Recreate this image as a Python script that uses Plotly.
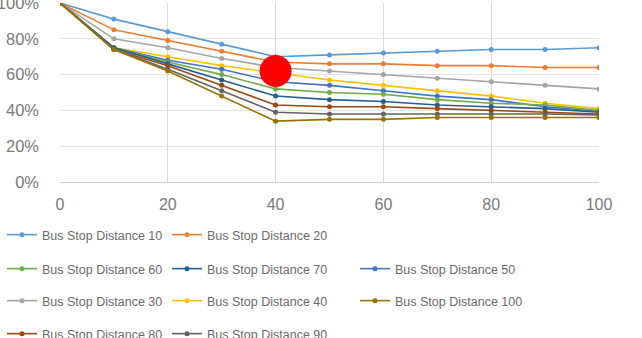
import plotly.graph_objects as go

x_vals = [0, 10, 20, 30, 40, 50, 60, 70, 80, 90, 100]

bsd10 = [100, 91, 84, 77, 70, 71, 72, 73, 74, 74, 75]
bsd20 = [100, 85, 79, 73, 67, 66, 66, 65, 65, 64, 64]
bsd30 = [100, 80, 75, 69, 64, 62, 60, 58, 56, 54, 52]
bsd40 = [100, 75, 70, 65, 61, 57, 54, 51, 48, 44, 41]
bsd50 = [100, 75, 68, 63, 56, 54, 51, 48, 46, 42, 39.5]
bsd60 = [100, 75, 67, 60, 52, 50, 49, 46, 44, 43, 40]
bsd70 = [100, 75, 66, 57, 48, 46, 45, 43, 42, 41, 39]
bsd80 = [100, 74, 65, 54, 43, 42, 42, 41, 40, 39, 38]
bsd90 = [100, 74, 63, 51, 39, 38, 38, 38, 38, 38, 37.5]
bsd100 = [100, 74, 62, 48, 34, 35, 35, 36, 36, 36, 36]

series_names = ["Bus Stop Distance 10", "Bus Stop Distance 20", "Bus Stop Distance 30",
                "Bus Stop Distance 40", "Bus Stop Distance 50", "Bus Stop Distance 60",
                "Bus Stop Distance 70", "Bus Stop Distance 80", "Bus Stop Distance 90",
                "Bus Stop Distance 100"]
series_values = [bsd10, bsd20, bsd30, bsd40, bsd50, bsd60, bsd70, bsd80, bsd90, bsd100]

y_tick_vals = [0, 20, 40, 60, 80, 100]
y_tick_text = ["0%", "20%", "40%", "60%", "80%", "100%"]
x_tick_vals = [0, 20, 40, 60, 80, 100]

highlight_x = [40]
highlight_y = [62]

colors = ["#5B9BD5", "#ED7D31", "#A5A5A5", "#FFC000", "#4472C4",
          "#70AD47", "#255E91", "#9E480E", "#636363", "#997300"]

# legend placement (pixel positions of each entry: left x, center y)
legend_pos = {
    "Bus Stop Distance 10": (2, 235),
    "Bus Stop Distance 20": (167, 235),
    "Bus Stop Distance 60": (2, 269),
    "Bus Stop Distance 70": (167, 269),
    "Bus Stop Distance 50": (355, 269),
    "Bus Stop Distance 30": (2, 301),
    "Bus Stop Distance 40": (167, 301),
    "Bus Stop Distance 100": (355, 301),
    "Bus Stop Distance 80": (2, 334),
    "Bus Stop Distance 90": (167, 334),
}

W, H = 642, 338
fig = go.Figure()
layout_legends = {}
for i, (name, vals) in enumerate(zip(series_names, series_values)):
    lname = "legend" if i == 0 else f"legend{i+1}"
    fig.add_trace(go.Scatter(
        x=x_vals, y=vals, name=name, mode="lines+markers",
        line=dict(color=colors[i], width=1.6),
        marker=dict(color=colors[i], size=5),
        legend=lname,
    ))
    px, py = legend_pos[name]
    layout_legends[lname] = dict(
        x=px / W, y=1 - py / H, xref="container", yref="container",
        xanchor="left", yanchor="middle",
        bgcolor="rgba(0,0,0,0)",
        font=dict(family="Liberation Sans, Arial, sans-serif", size=12.5, color="#6b6b6b"),
        itemwidth=30,
    )

fig.add_trace(go.Scatter(
    x=highlight_x, y=highlight_y, mode="markers",
    marker=dict(color="#FF0000", size=32, line=dict(width=0)),
    showlegend=False, hoverinfo="skip",
))

fig.update_layout(
    width=W, height=H,
    margin=dict(l=60, r=43, t=3, b=156, autoexpand=False),
    paper_bgcolor="white", plot_bgcolor="white",
    **layout_legends,
)
fig.update_xaxes(
    range=[0, 100], tickmode="array", tickvals=x_tick_vals,
    showgrid=True, gridcolor="#d9d9d9", gridwidth=1,
    showline=True, linecolor="#d0d0d0", linewidth=1,
    zeroline=False, ticks="",
    tickfont=dict(family="Liberation Sans, Arial, sans-serif", size=16, color="#7a7a7a"),
    ticklabelstandoff=8, ticklabeloverflow="allow",
)
fig.update_yaxes(
    range=[0, 100], tickmode="array", tickvals=y_tick_vals, ticktext=y_tick_text,
    showgrid=True, gridcolor="#e3e3e3", gridwidth=1,
    showline=False, zeroline=False, ticks="",
    tickfont=dict(family="Liberation Sans, Arial, sans-serif", size=16.5, color="#7a7a7a"),
    ticklabelstandoff=20, ticklabeloverflow="allow",
)

fig.write_html("out.html")
